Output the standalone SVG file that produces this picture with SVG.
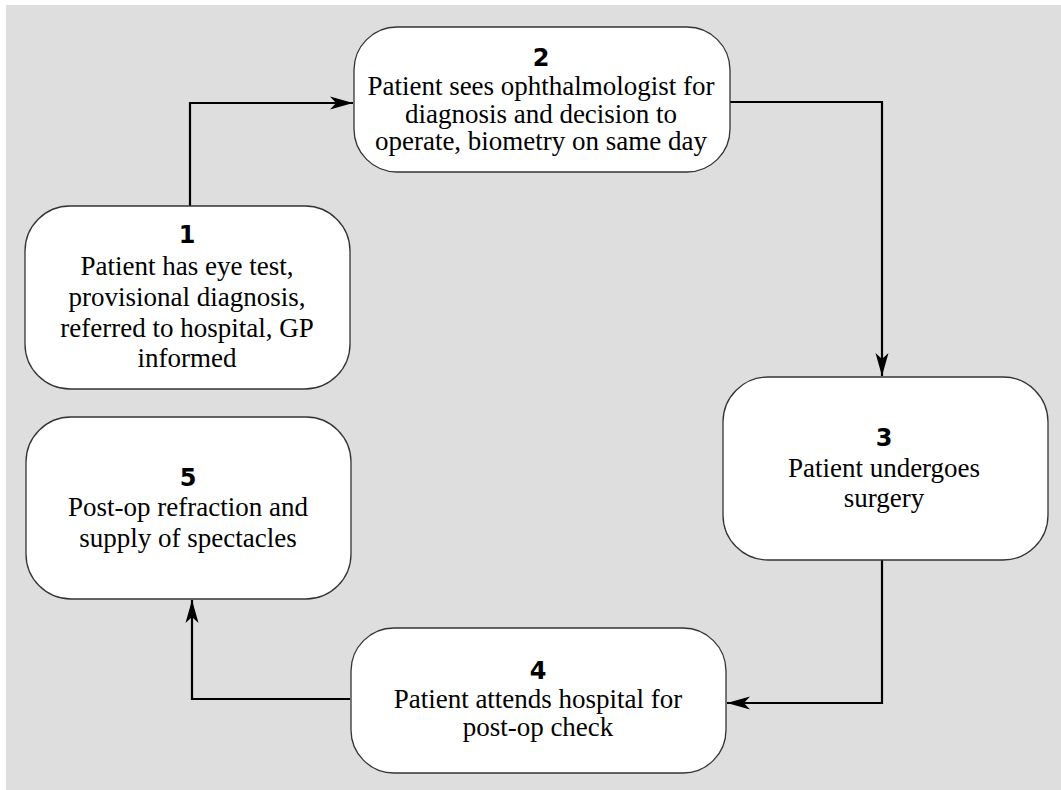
<svg xmlns="http://www.w3.org/2000/svg" width="1061" height="790" viewBox="0 0 1061 790">
<defs>
<style>
.box{fill:#fff;stroke:#333;stroke-width:1.3}
.num{font-family:"DejaVu Sans",sans-serif;font-weight:bold;font-size:24px;fill:#000;text-anchor:middle}
.txt{font-family:"Liberation Serif","Times New Roman",serif;font-size:27px;fill:#000;text-anchor:middle}
.con{fill:none;stroke:#000;stroke-width:2.2}
</style>
<marker id="ah" markerUnits="userSpaceOnUse" viewBox="-24 -8 26 16" refX="0" refY="0" markerWidth="26" markerHeight="16" orient="auto">
<path d="M0,0 L-23,-6.5 L-17,0 L-23,6.5 Z" fill="#000"/>
</marker>
</defs>
<rect x="0" y="0" width="1061" height="790" fill="#fff"/>
<rect x="6" y="5" width="1055" height="785" fill="#dedede"/>
<g id="connectors">
<path class="con" d="M190,206 V103 H353" marker-end="url(#ah)"/>
<path class="con" d="M730,102 H882 V376" marker-end="url(#ah)"/>
<path class="con" d="M882,560 V703 H727" marker-end="url(#ah)"/>
<path class="con" d="M350,699 H192 V600" marker-end="url(#ah)"/>
</g>
<g id="node1">
<rect class="box" x="25" y="206" width="325" height="183" rx="45" ry="45"/>
<text class="num" x="187" y="243">1</text>
<text class="txt" x="187" y="275">Patient has eye test,</text>
<text class="txt" x="187" y="306">provisional diagnosis,</text>
<text class="txt" x="187" y="337">referred to hospital, GP</text>
<text class="txt" x="187" y="367">informed</text>
</g>
<g id="node2">
<rect class="box" x="354" y="27" width="376" height="145" rx="43" ry="43"/>
<text class="num" x="541" y="66">2</text>
<text class="txt" x="541" y="95">Patient sees ophthalmologist for</text>
<text class="txt" x="541" y="122.5">diagnosis and decision to</text>
<text class="txt" x="541" y="150">operate, biometry on same day</text>
</g>
<g id="node3">
<rect class="box" x="723" y="377" width="325" height="183" rx="45" ry="45"/>
<text class="num" x="884" y="446">3</text>
<text class="txt" x="884" y="477">Patient undergoes</text>
<text class="txt" x="884" y="507">surgery</text>
</g>
<g id="node4">
<rect class="box" x="351" y="628" width="375" height="145" rx="43" ry="43"/>
<text class="num" x="538" y="679">4</text>
<text class="txt" x="538" y="708">Patient attends hospital for</text>
<text class="txt" x="538" y="736">post-op check</text>
</g>
<g id="node5">
<rect class="box" x="26" y="417" width="325" height="182" rx="45" ry="45"/>
<text class="num" x="188" y="486">5</text>
<text class="txt" x="188" y="516">Post-op refraction and</text>
<text class="txt" x="188" y="547">supply of spectacles</text>
</g>
</svg>
